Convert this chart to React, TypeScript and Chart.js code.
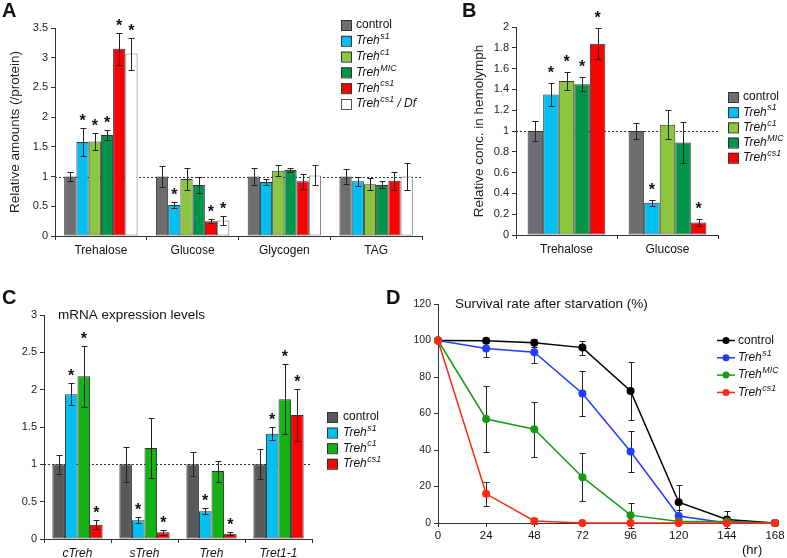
import React, { useEffect, useRef } from 'react';
import { Chart, registerables } from 'chart.js';
Chart.register(...registerables);

const FONT = '"Liberation Sans", Arial, Helvetica, sans-serif';

// ---------- Panel A data ----------
const aCategories = ['Trehalose', 'Glucose', 'Glycogen', 'TAG'];
const aControl = [1.0, 1.0, 1.0, 1.0];
const aControlErr = [0.07, 0.17, 0.14, 0.12];
const aS1 = [1.58, 0.52, 0.91, 0.92];
const aS1Err = [0.23, 0.05, 0.05, 0.08];
const aC1 = [1.59, 0.96, 1.10, 0.87];
const aC1Err = [0.15, 0.19, 0.09, 0.10];
const aMIC = [1.70, 0.86, 1.11, 0.86];
const aMICErr = [0.08, 0.14, 0.03, 0.06];
const aCs1 = [3.15, 0.25, 0.92, 0.93];
const aCs1Err = [0.27, 0.03, 0.13, 0.15];
const aDf = [3.07, 0.26, 1.02, 1.0];
const aDfErr = [0.27, 0.07, 0.17, 0.22];
const aStarsS1 = [1, 1, 0, 0];
const aStarsC1 = [1, 0, 0, 0];
const aStarsMIC = [1, 0, 0, 0];
const aStarsCs1 = [1, 1, 0, 0];
const aStarsDf = [1, 1, 0, 0];
const aYTicks = [0, 3.5, 0.5];

// ---------- Panel B data ----------
const bCategories = ['Trehalose', 'Glucose'];
const bControl = [1.0, 1.0];
const bControlErr = [0.1, 0.08];
const bS1 = [1.35, 0.31];
const bS1Err = [0.11, 0.03];
const bC1 = [1.48, 1.06];
const bC1Err = [0.09, 0.14];
const bMIC = [1.45, 0.89];
const bMICErr = [0.07, 0.2];
const bCs1 = [1.84, 0.12];
const bCs1Err = [0.15, 0.03];
const bStarsS1 = [1, 1];
const bStarsC1 = [1, 0];
const bStarsMIC = [1, 0];
const bStarsCs1 = [1, 1];
const bYTicks = [0, 2, 0.2];

// ---------- Panel C data ----------
const cCategories = ['cTreh', 'sTreh', 'Treh', 'Tret1-1'];
const cControl = [1.0, 1.0, 1.0, 1.0];
const cControlErr = [0.13, 0.23, 0.16, 0.2];
const cS1 = [1.94, 0.25, 0.37, 1.41];
const cS1Err = [0.15, 0.04, 0.04, 0.09];
const cC1 = [2.18, 1.22, 0.91, 1.87];
const cC1Err = [0.41, 0.4, 0.14, 0.47];
const cCs1 = [0.19, 0.09, 0.07, 1.66];
const cCs1Err = [0.06, 0.03, 0.02, 0.35];
const cStarsS1 = [1, 1, 1, 1];
const cStarsC1 = [1, 0, 0, 1];
const cStarsCs1 = [1, 1, 1, 1];
const cYTicks = [0, 3, 0.5];

// ---------- Panel D data ----------
const dHours = [0, 24, 48, 72, 96, 120, 144, 168];
const dControl = [100, 99.8, 98.7, 96.1, 72.3, 11.4, 1.9, 0];
const dControlErr = [0, 1.2, 2.0, 3.8, 15.8, 9.3, 4.5, 0];
const dS1 = [100, 95.6, 93.6, 71.0, 39.2, 3.8, 0, 0];
const dS1Err = [0, 4.8, 6.0, 12.3, 11.4, 3.5, 0, 0];
const dMIC = [100, 57.0, 51.4, 25.1, 4.3, 0.8, 0.8, 0];
const dMICErr = [0, 18.2, 15.0, 13.0, 6.8, 0, 0, 0];
const dCs1 = [100, 16.0, 1.1, 0, 0, 0, 0, 0];
const dCs1Err = [0, 6.5, 1.8, 0, 0, 0, 0, 0];
const dXTicks = [0, 168, 24];
const dYTicks = [0, 120, 20];

// ---------- labels ----------
const LBL_CONTROL = 'control';
const LBL_S1 = 'Treh^s1';
const LBL_C1 = 'Treh^c1';
const LBL_MIC = 'Treh^MIC';
const LBL_CS1 = 'Treh^cs1';
const LBL_DF = 'Treh^cs1^ / Df';

// ---------- colours ----------
const COL_CONTROL = '#6d6e71';
const COL_CONTROL_C = '#58595b';
const COL_S1 = '#00bff3';
const COL_C1 = '#8cc63f';
const COL_C1_C = '#13b313';
const COL_MIC = '#00944a';
const COL_CS1 = '#ff0000';
const COL_DF = '#ffffff';
const LINE_CONTROL = '#000000';
const LINE_S1 = '#1f3cff';
const LINE_MIC = '#179a17';
const LINE_CS1 = '#ff2a14';

function fmt(v: number) {
  return String(Number(v.toFixed(2)));
}

function drawRich(ctx: CanvasRenderingContext2D, spec: string, x: number, y: number, size: number) {
  const [base, sup, suffix] = spec.split('^');
  const italic = base !== 'control';
  const st = italic ? 'italic ' : '';
  ctx.fillStyle = '#111';
  ctx.textBaseline = 'middle';
  ctx.textAlign = 'left';
  ctx.font = `${st}${size}px ${FONT}`;
  ctx.fillText(base, x, y);
  let cx = x + ctx.measureText(base).width;
  if (sup) {
    ctx.font = `${st}${size * 0.74}px ${FONT}`;
    ctx.fillText(sup, cx + 0.5, y - size * 0.36);
    cx += ctx.measureText(sup).width + 0.5;
  }
  if (suffix) {
    ctx.font = `${st}${size}px ${FONT}`;
    ctx.fillText(suffix, cx, y);
  }
}

type LegendItem = { label: string; fill: string; stroke: string };

function legendPlugin(items: LegendItem[], kind: 'box' | 'line', x: number, y: number, dy: number, textX: number) {
  return {
    id: 'richLegend',
    afterDraw(chart: any) {
      const ctx: CanvasRenderingContext2D = chart.ctx;
      ctx.save();
      items.forEach((it, i) => {
        const cy = y + i * dy;
        if (kind === 'box') {
          ctx.fillStyle = it.fill;
          ctx.fillRect(x, cy - 5, 10, 10);
          ctx.strokeStyle = it.stroke;
          ctx.lineWidth = 1;
          ctx.strokeRect(x + 0.5, cy - 4.5, 10, 10);
        } else {
          ctx.strokeStyle = it.fill;
          ctx.lineWidth = 1.5;
          ctx.beginPath();
          ctx.moveTo(x, cy);
          ctx.lineTo(x + 18, cy);
          ctx.stroke();
          ctx.fillStyle = it.fill;
          ctx.beginPath();
          ctx.arc(x + 9, cy, 3.5, 0, Math.PI * 2);
          ctx.fill();
        }
        drawRich(ctx, it.label, textX, cy, 12);
      });
      ctx.restore();
    },
  };
}

function textPlugin(texts: { text: string; x: number; y: number; size: number }[]) {
  return {
    id: 'texts',
    afterDraw(chart: any) {
      const ctx: CanvasRenderingContext2D = chart.ctx;
      ctx.save();
      ctx.fillStyle = '#111';
      ctx.textAlign = 'left';
      ctx.textBaseline = 'middle';
      texts.forEach((t) => {
        ctx.font = `${t.size}px ${FONT}`;
        ctx.fillText(t.text, t.x, t.y);
      });
      ctx.restore();
    },
  };
}

function refLinePlugin(value: number) {
  return {
    id: 'refLine',
    beforeDatasetsDraw(chart: any) {
      const { ctx, chartArea } = chart;
      const y = Math.round(chart.scales.y.getPixelForValue(value)) + 0.5;
      ctx.save();
      ctx.strokeStyle = '#333';
      ctx.lineWidth = 1;
      ctx.setLineDash([2, 2]);
      ctx.beginPath();
      ctx.moveTo(chartArea.left, y);
      ctx.lineTo(chartArea.right, y);
      ctx.stroke();
      ctx.restore();
    },
  };
}

function errorPlugin(behind: boolean, starGap: number, cap: number) {
  const draw = (chart: any) => {
    const ctx: CanvasRenderingContext2D = chart.ctx;
    const ys = chart.scales.y;
    ctx.save();
    chart.data.datasets.forEach((ds: any, di: number) => {
      if (!ds.err) return;
      const meta = chart.getDatasetMeta(di);
      meta.data.forEach((el: any, i: number) => {
        const d = ds.data[i];
        const v = typeof d === 'number' ? d : d.y;
        const e = ds.err[i];
        const x = Math.round(el.x) + 0.5;
        const yt = Math.round(ys.getPixelForValue(v + e)) + 0.5;
        const yb = Math.round(ys.getPixelForValue(v - e)) + 0.5;
        if (e > 0) {
          ctx.strokeStyle = '#222';
          ctx.lineWidth = 1;
          ctx.beginPath();
          ctx.moveTo(x, yt);
          ctx.lineTo(x, yb);
          ctx.moveTo(x - cap, yt);
          ctx.lineTo(x + cap, yt);
          ctx.moveTo(x - cap, yb);
          ctx.lineTo(x + cap, yb);
          ctx.stroke();
        }
        if (ds.stars && ds.stars[i]) {
          ctx.fillStyle = '#111';
          ctx.font = `bold 16px ${FONT}`;
          ctx.textAlign = 'center';
          ctx.textBaseline = 'alphabetic';
          ctx.fillText('*', el.x, yt - starGap);
        }
      });
    });
    ctx.restore();
  };
  return {
    id: 'errorBars',
    beforeDatasetsDraw(chart: any) {
      if (behind) draw(chart);
    },
    afterDatasetsDraw(chart: any) {
      if (!behind) draw(chart);
    },
  };
}

function yAxis(ticks: number[], width: number, title?: string, titlePad?: number) {
  return {
    min: ticks[0],
    max: ticks[1],
    ticks: { stepSize: ticks[2], font: { size: 11, family: FONT }, color: '#222', padding: 3, callback: (v: number) => fmt(v) },
    grid: { display: true, drawOnChartArea: false, drawTicks: true, tickLength: 4, color: '#333' },
    border: { display: true, color: '#333', width: 1 },
    title: title
      ? { display: true, text: title, font: { size: 13.5, family: FONT }, color: '#222', padding: { top: titlePad ?? 4 } }
      : { display: false },
    afterFit: (s: any) => {
      s.width = width;
    },
  };
}

function xCatAxis(height: number, italic = false) {
  return {
    ticks: { font: { size: 12, family: FONT, style: italic ? 'italic' : 'normal' }, color: '#111', padding: 3 },
    grid: { display: true, drawOnChartArea: false, drawTicks: true, tickLength: 4, color: '#333', offset: true },
    border: { display: true, color: '#333', width: 1 },
    afterFit: (s: any) => {
      s.height = height;
    },
  };
}

function barSet(label: string, data: number[], err: number[], stars: number[] | null, fill: string, stroke: string, catPct: number) {
  return {
    label,
    data,
    err,
    stars,
    backgroundColor: fill,
    borderColor: stroke,
    borderWidth: 1,
    borderSkipped: false,
    categoryPercentage: catPct,
    barPercentage: 1.0,
  };
}

const baseOpts = {
  responsive: false,
  maintainAspectRatio: false,
  animation: false,
  devicePixelRatio: 1,
  events: [],
};

function makeA() {
  const cp = 0.8;
  return {
    type: 'bar',
    data: {
      labels: aCategories,
      datasets: [
        barSet(LBL_CONTROL, aControl, aControlErr, null, COL_CONTROL, '#333', cp),
        barSet(LBL_S1, aS1, aS1Err, aStarsS1, COL_S1, '#333', cp),
        barSet(LBL_C1, aC1, aC1Err, aStarsC1, COL_C1, '#333', cp),
        barSet(LBL_MIC, aMIC, aMICErr, aStarsMIC, COL_MIC, '#333', cp),
        barSet(LBL_CS1, aCs1, aCs1Err, aStarsCs1, COL_CS1, '#333', cp),
        barSet(LBL_DF, aDf, aDfErr, aStarsDf, COL_DF, '#777', cp),
      ],
    },
    options: {
      ...baseOpts,
      layout: { padding: { left: 0, top: 28, right: 18, bottom: 0 } },
      plugins: { legend: { display: false }, tooltip: { enabled: false } },
      scales: {
        x: xCatAxis(26),
        y: yAxis(aYTicks, 55, 'Relative amounts (/protein)', 7),
      },
    },
    plugins: [
      refLinePlugin(1),
      errorPlugin(false, 3, 3),
      legendPlugin(
        [
          { label: LBL_CONTROL, fill: COL_CONTROL, stroke: '#333' },
          { label: LBL_S1, fill: COL_S1, stroke: '#333' },
          { label: LBL_C1, fill: COL_C1, stroke: '#333' },
          { label: LBL_MIC, fill: COL_MIC, stroke: '#333' },
          { label: LBL_CS1, fill: COL_CS1, stroke: '#333' },
          { label: LBL_DF, fill: COL_DF, stroke: '#555' },
        ],
        'box', 341, 25, 15.8, 356
      ),
    ],
  };
}

function makeB() {
  const cp = 0.77;
  return {
    type: 'bar',
    data: {
      labels: bCategories,
      datasets: [
        barSet(LBL_CONTROL, bControl, bControlErr, null, COL_CONTROL, '#333', cp),
        barSet(LBL_S1, bS1, bS1Err, bStarsS1, COL_S1, '#333', cp),
        barSet(LBL_C1, bC1, bC1Err, bStarsC1, COL_C1, '#333', cp),
        barSet(LBL_MIC, bMIC, bMICErr, bStarsMIC, COL_MIC, '#333', cp),
        barSet(LBL_CS1, bCs1, bCs1Err, bStarsCs1, COL_CS1, '#333', cp),
      ],
    },
    options: {
      ...baseOpts,
      layout: { padding: { left: 0, top: 27, right: 69, bottom: 0 } },
      plugins: { legend: { display: false }, tooltip: { enabled: false } },
      scales: {
        x: xCatAxis(27),
        y: yAxis(bYTicks, 76, 'Relative conc. in hemolymph', 31),
      },
    },
    plugins: [
      refLinePlugin(1),
      errorPlugin(false, 5.5, 3),
      legendPlugin(
        [
          { label: LBL_CONTROL, fill: COL_CONTROL, stroke: '#333' },
          { label: LBL_S1, fill: COL_S1, stroke: '#333' },
          { label: LBL_C1, fill: COL_C1, stroke: '#333' },
          { label: LBL_MIC, fill: COL_MIC, stroke: '#333' },
          { label: LBL_CS1, fill: COL_CS1, stroke: '#333' },
        ],
        'box', 288, 97, 15.2, 303
      ),
    ],
  };
}

function makeC() {
  const cp = 0.75;
  return {
    type: 'bar',
    data: {
      labels: cCategories,
      datasets: [
        barSet(LBL_CONTROL, cControl, cControlErr, null, COL_CONTROL_C, '#333', cp),
        barSet(LBL_S1, cS1, cS1Err, cStarsS1, COL_S1, '#333', cp),
        barSet(LBL_C1, cC1, cC1Err, cStarsC1, COL_C1_C, '#333', cp),
        barSet(LBL_CS1, cCs1, cCs1Err, cStarsCs1, COL_CS1, '#333', cp),
      ],
    },
    options: {
      ...baseOpts,
      layout: { padding: { left: 0, top: 35, right: 88, bottom: 0 } },
      plugins: { legend: { display: false }, tooltip: { enabled: false } },
      scales: {
        x: xCatAxis(19, true),
        y: yAxis(cYTicks, 44),
      },
    },
    plugins: [
      refLinePlugin(1),
      errorPlugin(false, 3, 3),
      legendPlugin(
        [
          { label: LBL_CONTROL, fill: COL_CONTROL_C, stroke: '#333' },
          { label: LBL_S1, fill: COL_S1, stroke: '#333' },
          { label: LBL_C1, fill: COL_C1_C, stroke: '#333' },
          { label: LBL_CS1, fill: COL_CS1, stroke: '#333' },
        ],
        'box', 327, 137, 15.6, 343
      ),
      textPlugin([{ text: 'mRNA expression levels', x: 58, y: 35, size: 13.5 }]),
    ],
  };
}

function lineSet(label: string, ys: number[], err: number[], color: string, order: number) {
  return {
    label,
    data: dHours.map((h, i) => ({ x: h, y: ys[i] })),
    err,
    borderColor: color,
    backgroundColor: color,
    pointBackgroundColor: color,
    pointBorderColor: color,
    pointBorderWidth: 0,
    pointRadius: 4,
    borderWidth: 1.5,
    tension: 0,
    clip: false,
    order,
  };
}

function makeD() {
  return {
    type: 'line',
    data: {
      datasets: [
        lineSet(LBL_CONTROL, dControl, dControlErr, LINE_CONTROL, 3),
        lineSet(LBL_S1, dS1, dS1Err, LINE_S1, 2),
        lineSet(LBL_MIC, dMIC, dMICErr, LINE_MIC, 1),
        lineSet(LBL_CS1, dCs1, dCs1Err, LINE_CS1, 0),
      ],
    },
    options: {
      ...baseOpts,
      layout: { padding: { left: 0, top: 24, right: 12, bottom: 0 } },
      plugins: { legend: { display: false }, tooltip: { enabled: false } },
      scales: {
        x: {
          type: 'linear',
          min: dXTicks[0],
          max: dXTicks[1],
          ticks: { stepSize: dXTicks[2], font: { size: 11.5, family: FONT }, color: '#111', padding: 2 },
          grid: { display: true, drawOnChartArea: false, drawTicks: true, tickLength: 4, color: '#333' },
          border: { display: true, color: '#333', width: 1 },
          afterFit: (s: any) => {
            s.height = 35;
          },
        },
        y: {
          ...yAxis(dYTicks, 38),
          ticks: { stepSize: dYTicks[2], font: { size: 10.5, family: FONT }, color: '#222', padding: 3 },
        },
      },
    },
    plugins: [
      errorPlugin(true, 0, 3),
      legendPlugin(
        [
          { label: LBL_CONTROL, fill: LINE_CONTROL, stroke: LINE_CONTROL },
          { label: LBL_S1, fill: LINE_S1, stroke: LINE_S1 },
          { label: LBL_MIC, fill: LINE_MIC, stroke: LINE_MIC },
          { label: LBL_CS1, fill: LINE_CS1, stroke: LINE_CS1 },
        ],
        'line', 317, 60.5, 17.3, 338
      ),
      textPlugin([
        { text: 'Survival rate after starvation (%)', x: 55, y: 24, size: 13.5 },
        { text: '(hr)', x: 342, y: 270, size: 13 },
      ]),
    ],
  };
}

function Panel({ left, top, width, height, make }: { left: number; top: number; width: number; height: number; make: () => any }) {
  const ref = useRef<HTMLCanvasElement>(null);
  useEffect(() => {
    const chart = new Chart(ref.current as HTMLCanvasElement, make());
    return () => chart.destroy();
  }, [make]);
  return <canvas ref={ref} width={width} height={height} style={{ position: 'absolute', left, top, width, height }} />;
}

const letterStyle: React.CSSProperties = {
  position: 'absolute',
  fontFamily: FONT,
  fontWeight: 'bold',
  fontSize: 20,
  lineHeight: '20px',
  color: '#111',
  margin: 0,
};

export default function App() {
  return (
    <div style={{ position: 'absolute', left: 0, top: 0, width: 787, height: 558, background: '#fff', overflow: 'hidden' }}>
      <Panel left={0} top={0} width={440} height={262} make={makeA} />
      <Panel left={440} top={0} width={347} height={262} make={makeB} />
      <Panel left={0} top={280} width={400} height={278} make={makeC} />
      <Panel left={400} top={280} width={387} height={278} make={makeD} />
      <div style={{ ...letterStyle, left: 2, top: 0 }}>A</div>
      <div style={{ ...letterStyle, left: 462, top: 0 }}>B</div>
      <div style={{ ...letterStyle, left: 2, top: 287 }}>C</div>
      <div style={{ ...letterStyle, left: 386, top: 287 }}>D</div>
    </div>
  );
}
